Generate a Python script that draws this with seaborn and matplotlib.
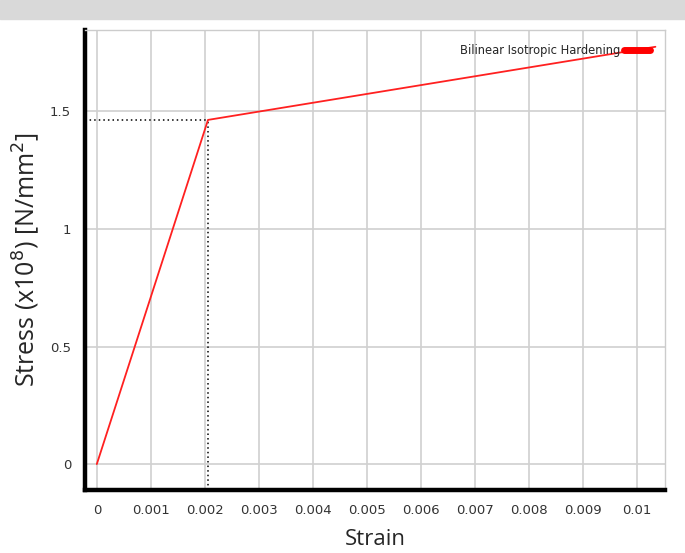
import numpy as np
import pandas as pd
import seaborn as sns
import matplotlib.pyplot as plt
from matplotlib.lines import Line2D
from matplotlib.patches import Rectangle

strain = [0.0, 0.00206, 0.01035]
stress = [0.0, 1.464, 1.775]
yield_strain = 0.00206
yield_stress = 1.464
x_ticks = [0, 0.001, 0.002, 0.003, 0.004, 0.005, 0.006, 0.007, 0.008, 0.009, 0.01]
x_labels = ['0', '0.001', '0.002', '0.003', '0.004', '0.005', '0.006', '0.007', '0.008', '0.009', '0.01']
y_ticks = [0, 0.5, 1, 1.5]
y_labels = ['0', '0.5', '1', '1.5']

df = pd.DataFrame({'strain': strain, 'stress': stress})

sns.set_style('white')
plt.rcParams['font.family'] = ['DejaVu Sans']

fig = plt.figure(figsize=(6.85, 5.53), dpi=100)
fig.patches.append(Rectangle((0, 0.965), 1, 0.035, transform=fig.transFigure,
                             color='#d9d9d9', zorder=0))
ax = fig.add_axes([0.124, 0.114, 0.847, 0.832])

xmin, xmax = -0.00022, 0.01053
ymin, ymax = -0.11, 1.847

ax.grid(True, color='#d0d0d0', lw=1.2)
ax.set_axisbelow(True)

sns.lineplot(x='strain', y='stress', data=df, color='#ff2020', lw=1.3, ax=ax,
             legend=False, zorder=3)

ax.plot([xmin, yield_strain], [yield_stress, yield_stress], ls=(0, (1, 2)), color='black', lw=1.1, zorder=2)
ax.plot([yield_strain, yield_strain], [ymin, yield_stress], ls=(0, (1, 2)), color='black', lw=1.1, zorder=2)

ax.set_xlim(xmin, xmax)
ax.set_ylim(ymin, ymax)
ax.set_xticks(x_ticks)
ax.set_xticklabels(x_labels, fontsize=9.5, color='#333333')
ax.set_yticks(y_ticks)
ax.set_yticklabels(y_labels, fontsize=9.5, color='#333333')
ax.tick_params(axis='both', length=4, width=1, color='#333333', direction='out', pad=6)

for side in ['left', 'bottom']:
    ax.spines[side].set_linewidth(3.2)
    ax.spines[side].set_color('black')
for side in ['top', 'right']:
    ax.spines[side].set_linewidth(1)
    ax.spines[side].set_color('#cccccc')

ax.set_xlabel('Strain', fontsize=16, family='Open Sans', labelpad=9)
ax.set_ylabel('Stress (x10$^8$) [N/mm$^2$]', fontsize=18, family='Open Sans', labelpad=6)

handle = Line2D([0], [0], color='#ff0000', lw=5)
ax.legend([handle], ['Bilinear Isotropic Hardening'], loc='upper right', markerfirst=False,
          frameon=False, fontsize=8.3, handlelength=2.2, handletextpad=0.3,
          bbox_to_anchor=(0.985, 0.985), borderaxespad=0.2)

fig.savefig('out.png', dpi=100)
